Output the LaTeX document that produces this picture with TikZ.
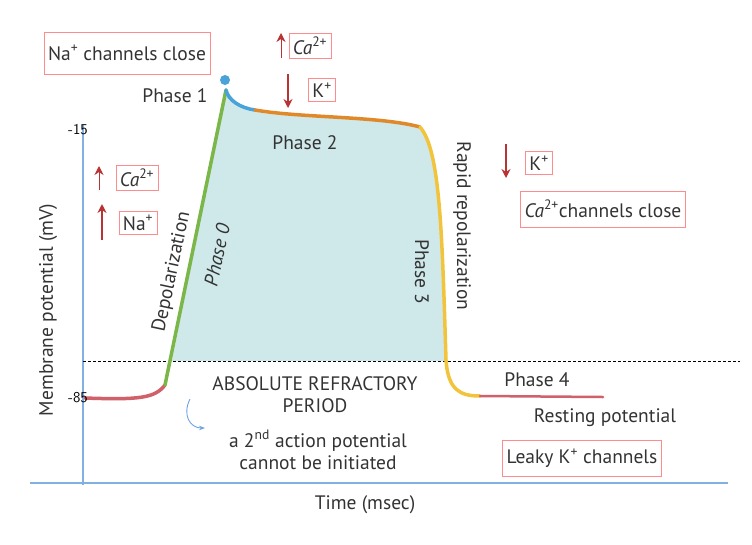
\documentclass[tikz,border=0pt]{standalone}
\usepackage{fontspec}
\setmainfont{PT Sans}
\usetikzlibrary{arrows.meta}
\begin{document}
\begin{tikzpicture}[x=1pt,y=-1pt,
  txt/.style={font=\fontsize{19.5}{22}\selectfont, text=black!80, inner sep=1pt},
  box/.style={txt, draw=red!45, line width=0.8pt, inner sep=4pt},
  arr/.style={-{Stealth[length=9pt,width=9pt]}, draw=red!65!black!80, line width=1.6pt},
  ax/.style={draw=cyan!60!blue!50, line width=1.2pt},
  seg/.style={line width=3.5pt, line cap=round}]
\definecolor{fillc}{HTML}{CFE8EA}
\definecolor{gr}{HTML}{7AB648}
\definecolor{bl}{HTML}{4AA3D8}
\definecolor{orc}{HTML}{E0892A}
\definecolor{ye}{HTML}{F2C43C}
\definecolor{rd}{HTML}{D0606A}
\useasboundingbox (0,0) rectangle (752,544);
% fill
\fill[fillc] (172,361) -- (226,88) .. controls (235,105) and (250,112) .. (270,114) .. controls (330,118) and (390,120) .. (420,127) .. controls (440,150) and (442,230) .. (445,361) -- cycle;
% axes
\coordinate (ytop) at (83,125); \coordinate (ybot) at (83,485);
\coordinate (xl) at (30,483); \coordinate (xr) at (728,483);
\draw[ax] (ytop) -- (ybot);
\draw[ax] (xl) -- (xr);
\coordinate (dl) at (83,361); \coordinate (dr) at (740,361);
\draw[dashed, dash pattern=on 3pt off 2pt, line width=1pt] (dl) -- (dr);
% curve
\draw[seg, rd] (85,398) .. controls (140,400) and (155,398) .. (165,385);
\draw[seg, gr] (165,385) -- (226,90);
\draw[seg, bl] (226,90) .. controls (228,100) and (240,108) .. (255,110);
\draw[seg, orc] (255,110) .. controls (300,118) and (380,116) .. (420,127);
\draw[seg, ye] (420,127) .. controls (440,150) and (442,230) .. (446,360) .. controls (448,390) and (460,396) .. (480,396);
\draw[seg, rd, line width=2.5pt] (480,396) -- (603,397);
\node[circle, fill=bl, inner sep=0pt, minimum size=10pt] (peak) at (225,80) {};
% labels
\node[box, minimum height=42pt] (nacl) at (127,53) {Na\textsuperscript{+} channels close};
\node[txt] (p1) at (175,96) {Phase 1};
\node[box] (ca1) at (310,46) {\textit{Ca}\textsuperscript{2+}};
\node[box] (k1) at (322,90) {K\textsuperscript{+}};
\coordinate (a1s) at (281,58); \coordinate (a1e) at (281,33);
\draw[arr, line width=0.8pt] (a1s) -- (a1e);
\coordinate (a2s) at (288,74); \coordinate (a2e) at (288,108);
\draw[arr] (a2s) -- (a2e);
\node[font=\sffamily\fontsize{15}{17}\selectfont] (m15) at (78,130) {-15};
\node[font=\sffamily\fontsize{15}{17}\selectfont] (m85) at (78,398) {-85};
\node[txt] (p2) at (305,143) {Phase 2};
\node[txt, rotate=-90] (rr) at (462,226) {Rapid repolarization};
\node[box] (k2) at (539,163) {K\textsuperscript{+}};
\coordinate (a3s) at (506,144); \coordinate (a3e) at (506,178);
\draw[arr] (a3s) -- (a3e);
\node[box, minimum height=36pt] (cacl) at (603,209) {\textit{Ca}\textsuperscript{2+}channels close};
\node[box] (ca2) at (137,178) {\textit{Ca}\textsuperscript{2+}};
\node[box] (na2) at (138,223) {Na\textsuperscript{+}};
\coordinate (a4s) at (99,190); \coordinate (a4e) at (99,166);
\draw[arr, line width=0.8pt] (a4s) -- (a4e);
\coordinate (a5s) at (102,240); \coordinate (a5e) at (102,204);
\draw[arr] (a5s) -- (a5e);
\node[txt, rotate=78] (dep) at (172,272) {Depolarization};
\node[txt, rotate=78] (p0) at (217,255) {\textit{Phase 0}};
\node[txt, rotate=-90] (p3) at (422,272) {Phase 3};
\node[txt, rotate=90] (mp) at (48,310) {Membrane potential (mV)};
\node[txt, align=center] (arp) at (315,395) {ABSOLUTE REFRACTORY\\PERIOD};
\node[txt, align=center] (ap) at (318,450) {a 2\textsuperscript{nd} action potential\\cannot be initiated};
\coordinate (cs) at (190,399); \coordinate (ce) at (205,428);
\draw[-{Stealth[length=6pt]}, draw=cyan!60!blue!60, line width=0.9pt] (cs) .. controls (182,415) and (190,428) .. (ce);
\node[txt] (p4) at (537,380) {Phase 4};
\node[txt] (rp) at (605,418) {Resting potential};
\node[box, minimum height=36pt] (lk) at (582,458) {Leaky K\textsuperscript{+} channels};
\node[txt] (tm) at (365,505) {Time (msec)};
\end{tikzpicture}
\end{document}
